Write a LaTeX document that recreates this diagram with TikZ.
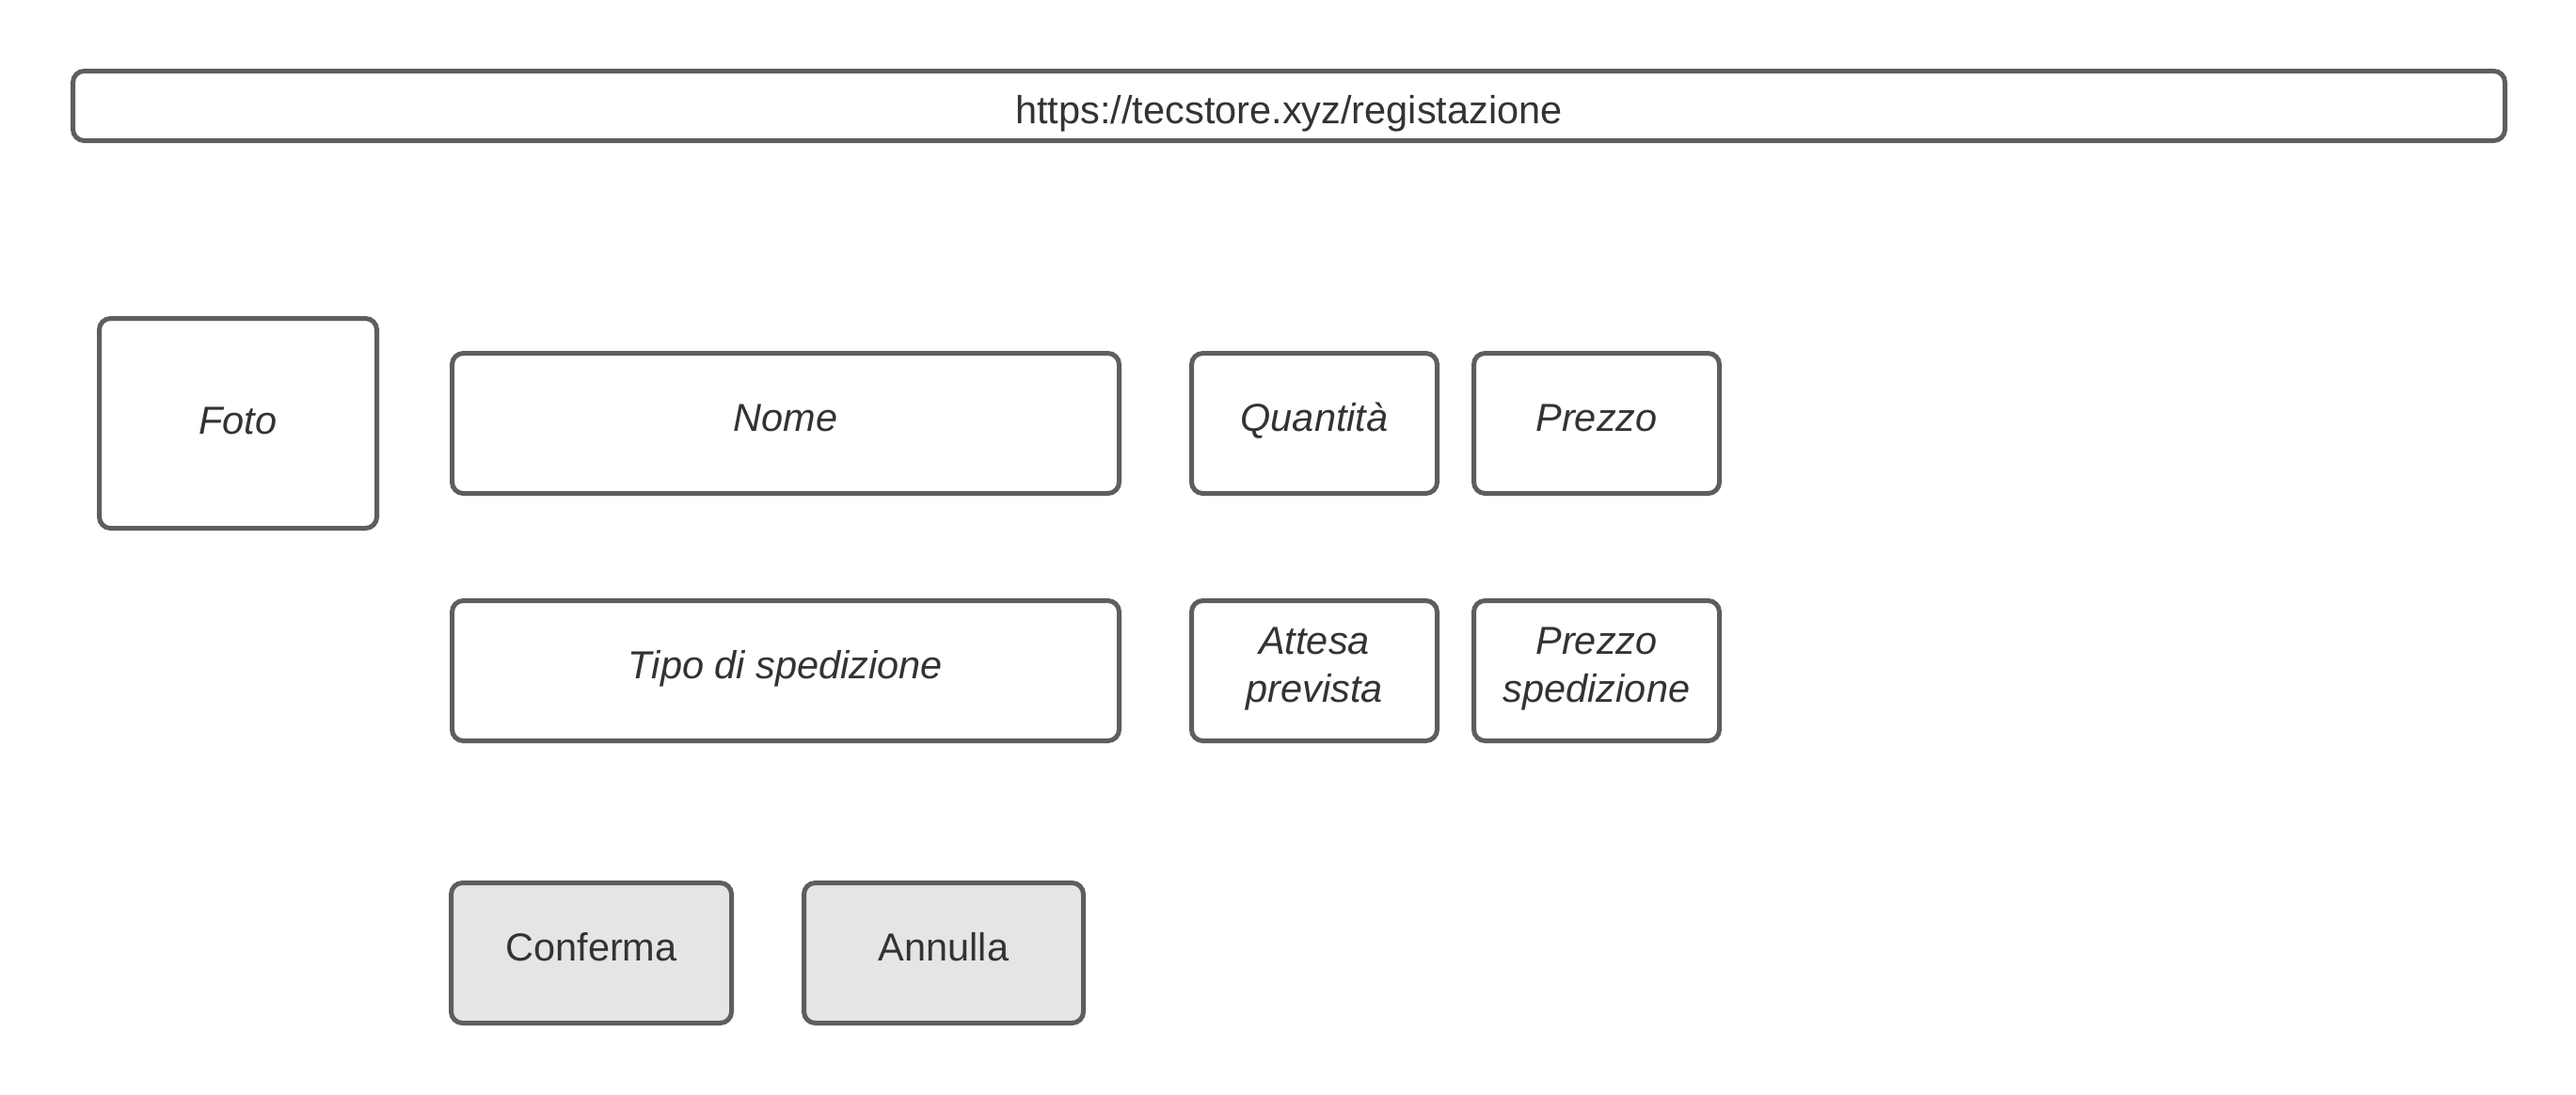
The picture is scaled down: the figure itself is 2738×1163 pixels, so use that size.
\documentclass[tikz,border=0pt]{standalone}
\usepackage{fontspec}
\setmainfont{Liberation Sans}
\definecolor{edge}{HTML}{5E5E5E}
\definecolor{txt}{HTML}{333333}
\definecolor{btn}{HTML}{E5E5E5}
\begin{document}
\begin{tikzpicture}[x=0.5pt,y=-0.5pt,
  box/.style={draw=edge, line width=2.5pt, rounded corners=6pt, fill=white, inner sep=0pt, outer sep=0pt},
  button/.style={box, fill=btn},
  lbl/.style={text=txt, font=\fontsize{20.75}{25.5}\selectfont\itshape, inner sep=0pt, text height=0.72em, text depth=0pt},
  lbltwo/.style={text=txt, font=\fontsize{20.75}{25.5}\selectfont\itshape, inner sep=0pt, align=center},
  lblup/.style={text=txt, font=\fontsize{20.75}{25.5}\selectfont, inner sep=0pt, text height=0.72em, text depth=0pt}]
\useasboundingbox (0,0) rectangle (2738,1163);
\fill[white] (0,0) rectangle (2738,1163);
% URL bar
\node[box, minimum width=1292.5pt, minimum height=37pt] (url) at (1370,112.5) {};
\node[text=txt, font=\fontsize{20.75}{25.5}\selectfont, inner sep=0pt] (urlL) at ([yshift=-4pt]url.center) {https://tecstore.xyz/registazione};
% boxes
\node[box, minimum width=147.5pt, minimum height=111.5pt] (foto) at (253,450) {};
\node[box, minimum width=354.5pt, minimum height=74.5pt] (nome) at (835,450) {};
\node[box, minimum width=130.5pt, minimum height=74.5pt] (qta) at (1397,450) {};
\node[box, minimum width=130.5pt, minimum height=74.5pt] (prezzo) at (1697,450) {};
\node[box, minimum width=354.5pt, minimum height=74.5pt] (tipo) at (835,713) {};
\node[box, minimum width=130.5pt, minimum height=74.5pt] (attesa) at (1397,713) {};
\node[box, minimum width=130.5pt, minimum height=74.5pt] (psped) at (1697,713) {};
\node[button, minimum width=149pt, minimum height=74.5pt] (conf) at (628.5,1013) {};
\node[button, minimum width=148.5pt, minimum height=74.5pt] (ann) at (1003,1013) {};
% labels
\node[lbl] (fotoL) at ([yshift=-2pt]foto.center) {Foto};
\node[lbl] (nomeL) at ([yshift=-0.5pt]nome.center) {Nome};
\node[lbl] (qtaL) at ([yshift=-0.5pt]qta.center) {Quantità};
\node[lbl] (prezzoL) at ([yshift=-0.5pt]prezzo.center) {Prezzo};
\node[lbl] (tipoL) at ([yshift=-0.5pt]tipo.center) {Tipo di spedizione};
\node[lbltwo] (attesaL) at ([yshift=1pt]attesa.center) {Attesa\\prevista};
\node[lbltwo] (pspedL) at ([yshift=1pt]psped.center) {Prezzo\\spedizione};
\node[lblup] (confL) at ([yshift=-0.5pt]conf.center) {Conferma};
\node[lblup] (annL) at ([yshift=-0.5pt]ann.center) {Annulla};
\end{tikzpicture}
\end{document}
